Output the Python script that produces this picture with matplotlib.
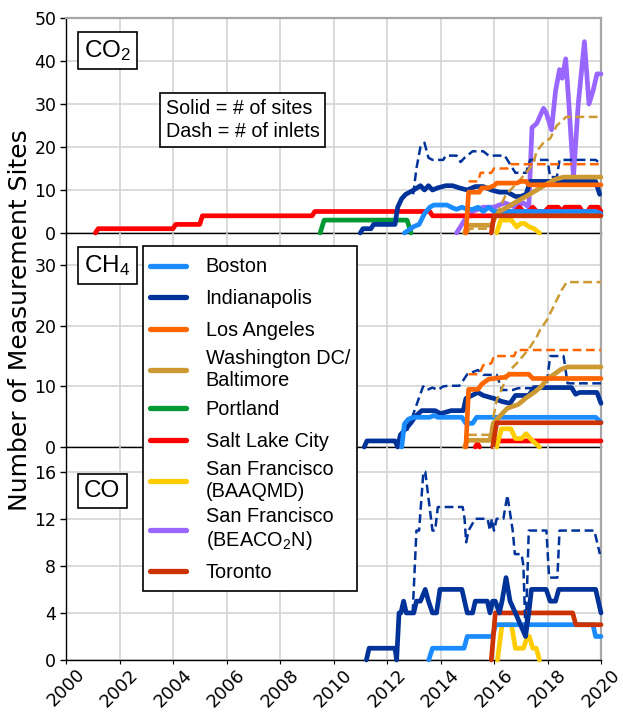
import numpy as np
import matplotlib
matplotlib.use("Agg")
import matplotlib.pyplot as plt
from matplotlib.lines import Line2D

plt.rcParams['mathtext.fontset'] = 'custom'
plt.rcParams['mathtext.rm'] = 'Liberation Sans'
plt.rcParams['mathtext.it'] = 'Liberation Sans:italic'
plt.rcParams['font.family'] = ['DejaVu Sans']

# ---------------- data (decimal year, count) ----------------
years_ticks = [2000, 2002, 2004, 2006, 2008, 2010, 2012, 2014, 2016, 2018, 2020]

cities = ["Boston", "Indianapolis", "Los Angeles", "Washington DC/\nBaltimore", "Portland",
          "Salt Lake City", "San Francisco\n(BAAQMD)", "San Francisco\n(BEACO$_2$N)", "Toronto"]
colors = ["#1a8cff", "#003399", "#ff6600", "#cc9933", "#009933",
          "#ff0000", "#ffcc00", "#9966ff", "#cc3300"]

# CO2 panel
co2_slc_t = [2001.1, 2001.2, 2004.0, 2004.1, 2005.0, 2005.1, 2009.2, 2009.3, 2013.6, 2013.7, 2016.0, 2016.1,
             2016.8, 2016.95, 2017.1, 2017.3, 2017.45, 2017.6, 2017.9, 2018.05, 2018.4, 2018.55, 2018.65,
             2019.2, 2019.3, 2019.5, 2019.6, 2019.9, 2020.0]
co2_slc_n = [0, 1, 1, 2, 2, 4, 4, 5, 5, 4, 4, 5,
             5, 6, 5, 5, 6, 5, 5, 6, 6, 5, 6,
             6, 5, 5, 6, 6, 5]
co2_portland_t = [2009.5, 2009.65, 2012.75, 2012.9]
co2_portland_n = [0, 3, 3, 0]
co2_indy_t = [2011.0, 2011.1, 2011.4, 2011.5, 2012.3, 2012.4, 2012.55, 2012.7, 2013.0, 2013.25, 2013.4,
              2013.55, 2013.7, 2013.9, 2014.2, 2014.45, 2014.7, 2015.0, 2015.3, 2015.6, 2015.9, 2016.2,
              2016.5, 2016.8, 2017.0, 2017.2, 2017.35, 2019.8, 2019.95]
co2_indy_n = [0, 1, 1, 2, 2, 6, 8, 9, 10, 11, 10,
              11, 10, 10.5, 11, 11, 10.5, 10, 10.8, 10.8, 10, 9.5,
              9.5, 8.5, 8.5, 9, 12, 12, 9]
co2_indy_dash_t = [2012.98, 2013.1, 2013.25, 2013.4, 2013.55, 2013.7, 2014.1, 2014.2, 2014.6, 2014.75,
                   2014.9, 2015.2, 2015.6, 2015.8, 2016.4, 2016.6, 2016.8, 2017.2, 2017.35, 2018.0,
                   2018.1, 2018.35, 2018.45, 2019.8, 2020.0]
co2_indy_dash_n = [9, 15, 20, 21, 17.5, 17, 17, 18, 18, 16.5,
                   17.5, 19, 19, 18, 18, 16, 14, 14, 17, 17,
                   13, 13, 17, 17, 16]
co2_boston_t = [2012.65, 2013.0, 2013.2, 2013.4, 2013.6, 2013.75, 2014.25, 2014.4, 2014.6, 2014.8,
                2015.0, 2015.2, 2015.4, 2015.6, 2015.8, 2016.0, 2019.8, 2020.0]
co2_boston_n = [0, 1.5, 2, 4.5, 6, 6.5, 6.5, 6, 5.5, 6,
                5.5, 5.5, 6, 5, 6, 5, 5, 4.5]
co2_la_t = [2014.95, 2015.05, 2015.45, 2015.55, 2015.8, 2016.0, 2016.1, 2016.85, 2017.0, 2017.2, 2017.3, 2020.0]
co2_la_n = [0, 9.5, 9.5, 10.5, 10.5, 11, 11.6, 11.6, 12, 12, 11.2, 11.2]
co2_la_dash_t = [2015.05, 2015.4, 2015.5, 2015.9, 2016.0, 2016.5, 2016.6, 2020.0]
co2_la_dash_n = [12, 12, 14, 14, 15, 15, 16, 16]
co2_wdc_t = [2014.9, 2015.0, 2015.9, 2016.05, 2016.2, 2016.5, 2016.9, 2017.2, 2017.6, 2018.0, 2018.3, 2018.6, 2020.0]
co2_wdc_n = [0, 1.8, 1.8, 3.8, 5, 6, 7.5, 8.5, 10, 11.5, 12.5, 13, 13]
co2_wdc_dash_t = [2015.0, 2015.1, 2015.85, 2016.0, 2016.15, 2016.45, 2016.85, 2017.2, 2017.45, 2017.6,
                  2017.85, 2018.1, 2018.35, 2018.7, 2020.0]
co2_wdc_dash_n = [0, 1, 1, 3, 5, 9, 11.5, 14, 16, 19,
                  21, 22, 25, 27, 27]
co2_beacon_t = [2014.6, 2014.9, 2015.2, 2015.6, 2016.0, 2016.4, 2016.8, 2017.1, 2017.3, 2017.42, 2017.6,
                2017.85, 2017.95, 2018.15, 2018.3, 2018.45, 2018.55, 2018.68, 2018.8, 2018.97, 2019.15,
                2019.38, 2019.55, 2019.7, 2019.85, 2020.0]
co2_beacon_n = [0, 3, 5, 6, 6, 7, 6, 7, 6, 24.5, 25.5,
                29, 28, 24, 33, 38, 36, 40.5, 30, 13, 30,
                44.5, 30, 33, 37, 37]
co2_baaqmd_t = [2016.1, 2016.25, 2016.65, 2016.85, 2017.0, 2017.15, 2017.3, 2017.5, 2017.7]
co2_baaqmd_n = [0, 3, 3, 1.4, 2.2, 2.2, 1.5, 1, 0]
co2_toronto_t = [2015.9, 2016.0, 2020.0]
co2_toronto_n = [0, 4, 4]

# CH4 panel
ch4_boston_t = [2012.55, 2012.65, 2012.8, 2013.0, 2013.6, 2013.75, 2013.9, 2014.8, 2014.95, 2015.2, 2015.35, 2019.8, 2020.0]
ch4_boston_n = [0, 3.8, 4.6, 4.9, 4.9, 5.2, 4.9, 4.9, 3.9, 3.9, 4.9, 4.9, 4.1]
ch4_indy_t = [2011.15, 2011.25, 2012.3, 2012.4, 2012.5, 2012.7, 2012.9, 2013.05, 2013.3, 2013.8, 2014.0,
              2014.4, 2014.85, 2014.95, 2015.4, 2015.6, 2016.0, 2016.3, 2016.6, 2016.8, 2017.3, 2017.5,
              2018.9, 2019.05, 2019.2, 2019.85, 2020.0]
ch4_indy_n = [0, 1, 1, 0, 2, 3, 4, 5, 6, 6, 5.5,
              6, 6, 8, 9, 8.5, 8, 7.5, 7.2, 8.5, 8.5, 9.8,
              9.8, 8.7, 9, 9, 7.2]
ch4_indy_dash_t = [2012.75, 2012.9, 2013.1, 2013.35, 2013.5, 2013.7, 2013.9, 2014.1, 2014.3, 2014.7, 2014.85,
                   2015.0, 2015.4, 2015.6, 2016.1, 2016.3, 2016.7, 2016.9, 2017.95, 2018.1, 2018.6, 2018.75, 2020.0]
ch4_indy_dash_n = [2.7, 4.4, 6.9, 10, 9.4, 9.8, 9.4, 10, 10.1, 10.1, 11,
                   12, 12.7, 11.9, 11.9, 9.4, 9.4, 9.7, 9.7, 15, 15, 10.5, 10.5]
ch4_la_t = [2014.95, 2015.05, 2015.4, 2015.55, 2015.8, 2016.4, 2016.6, 2017.3, 2017.45, 2020.0]
ch4_la_n = [0, 9.5, 9.5, 10.4, 11.2, 11.5, 12, 12, 11.3, 11.3]
ch4_la_dash_t = [2015.05, 2015.45, 2015.6, 2015.9, 2016.0, 2016.75, 2016.85, 2020.0]
ch4_la_dash_n = [12, 12, 13.5, 13.8, 15, 15, 16, 16]
ch4_wdc_t = [2014.9, 2015.0, 2015.85, 2016.0, 2016.2, 2016.5, 2016.9, 2017.2, 2017.5, 2017.75, 2018.0,
             2018.25, 2018.5, 2018.75, 2020.0]
ch4_wdc_n = [0, 1.1, 1.1, 4, 5, 6.4, 7, 8.1, 9, 9.9, 11.3,
             12, 12.8, 13.2, 13.2]
ch4_wdc_dash_t = [2014.9, 2015.0, 2015.85, 2015.98, 2016.1, 2016.35, 2016.6, 2016.85, 2017.1, 2017.35,
                  2017.6, 2017.72, 2017.97, 2018.22, 2018.34, 2018.53, 2018.72, 2020.0]
ch4_wdc_dash_n = [0, 2, 2, 5, 7.7, 10.2, 12.7, 13.8, 15.1, 16.5,
                  18.2, 19.3, 20.9, 23.1, 24.2, 25.9, 27.2, 27.2]
ch4_slc_t = [2015.3, 2015.38, 2015.46, np.nan, 2016.0, 2016.1, 2020.0]
ch4_slc_n = [0, 0.6, 0, np.nan, 0, 1, 1]
ch4_baaqmd_t = [2016.1, 2016.28, 2016.63, 2016.8, 2017.03, 2017.2, 2017.4, 2017.7]
ch4_baaqmd_n = [0, 3, 3, 1.4, 1.4, 2.2, 1.2, 0]
ch4_toronto_t = [2015.95, 2016.1, 2020.0]
ch4_toronto_n = [0, 4, 4]

# CO panel
co_indy_t = [2011.23, 2011.33, 2012.3, 2012.36, 2012.45, 2012.52, 2012.62, 2012.72, 2013.0, 2013.1,
             2013.25, 2013.43, 2013.55, 2013.7, 2013.85, 2013.98, 2014.8, 2014.9, 2015.0, 2015.2,
             2015.3, 2015.75, 2015.85, 2015.95, 2016.05, 2016.2, 2016.3, 2016.45, 2016.6, 2016.8,
             2017.18, 2017.3, 2017.4, 2017.95, 2018.1, 2018.3, 2018.42, 2019.8, 2020.0]
co_indy_n = [0, 1, 1, 0, 4, 4, 5, 4, 4, 5,
             5, 6, 5, 4, 4, 6, 6, 5, 4, 4,
             5, 5, 4, 5, 5, 4, 5, 7, 5, 4,
             2, 4, 6, 6, 5, 5, 6, 6, 4]
co_indy_dash_t = [2012.96, 2013.1, 2013.2, 2013.36, 2013.43, 2013.7, 2013.8, 2013.9, 2014.83, 2014.9,
                  2014.96, 2015.05, 2015.3, 2015.76, 2015.85, 2015.92, 2016.0, 2016.1, 2016.35, 2016.5,
                  2016.7, 2016.78, 2017.03, 2017.1, 2017.18, 2017.3, 2017.96, 2018.06, 2018.37, 2018.45,
                  2019.75, 2019.96]
co_indy_dash_n = [4, 11, 11, 16, 16, 11, 11, 13, 13, 12,
                  10, 11, 12, 12, 11, 12, 11, 12, 12, 14,
                  11, 9, 9, 8, 2, 11, 11, 7, 7, 11,
                  11, 9]
co_boston_t = [2013.56, 2013.7, 2014.88, 2015.0, 2015.94, 2016.06, 2019.7, 2019.8, 2020.0]
co_boston_n = [0, 1, 1, 2, 2, 3, 3, 2, 2]
co_toronto_t = [2015.9, 2016.05, 2018.94, 2019.06, 2020.0]
co_toronto_n = [0, 4, 4, 3, 3]
co_baaqmd_t = [2016.13, 2016.3, 2016.65, 2016.8, 2017.1, 2017.25, 2017.32, 2017.45, 2017.58, 2017.7]
co_baaqmd_n = [0, 3, 3, 1, 1, 2, 2, 1, 1, 0]

# ---------------- figure ----------------
W, H = 623, 712
fig = plt.figure(figsize=(W / 100, H / 100), dpi=100)
fig.patch.set_facecolor("white")

left = 66 / W
width = (601 - 66) / W
def fy(py):
    return 1 - py / H

ax1 = fig.add_axes([left, fy(233), width, (233 - 18) / H])
ax2 = fig.add_axes([left, fy(447), width, (447 - 233) / H])
ax3 = fig.add_axes([left, fy(660), width, (660 - 447) / H])

C = dict(zip(["bos", "ind", "la", "wdc", "por", "slc", "baa", "bea", "tor"], colors))
SOLID_LW = 3.4
DASH_LW = 1.8
DASH = (0, (3.5, 1.8))

def solid(ax, t, n, c, z):
    ax.plot(t, n, color=c, lw=SOLID_LW, solid_capstyle='round', solid_joinstyle='round',
            clip_on=False, zorder=z)

def dashed(ax, t, n, c, z):
    ax.plot(t, n, color=c, lw=DASH_LW, linestyle=DASH, clip_on=False, zorder=z)

# CO2
solid(ax1, co2_beacon_t, co2_beacon_n, C["bea"], 3)
solid(ax1, co2_slc_t, co2_slc_n, C["slc"], 3.1)
solid(ax1, co2_portland_t, co2_portland_n, C["por"], 3.2)
solid(ax1, co2_baaqmd_t, co2_baaqmd_n, C["baa"], 3.3)
dashed(ax1, co2_indy_dash_t, co2_indy_dash_n, C["ind"], 3.4)
solid(ax1, co2_indy_t, co2_indy_n, C["ind"], 3.5)
solid(ax1, co2_boston_t, co2_boston_n, C["bos"], 3.6)
dashed(ax1, co2_wdc_dash_t, co2_wdc_dash_n, C["wdc"], 3.7)
solid(ax1, co2_wdc_t, co2_wdc_n, C["wdc"], 3.8)
solid(ax1, co2_toronto_t, co2_toronto_n, C["tor"], 3.9)
dashed(ax1, co2_la_dash_t, co2_la_dash_n, C["la"], 4.0)
solid(ax1, co2_la_t, co2_la_n, C["la"], 4.1)

# CH4
solid(ax2, ch4_slc_t, ch4_slc_n, C["slc"], 3.1)
solid(ax2, ch4_baaqmd_t, ch4_baaqmd_n, C["baa"], 3.3)
dashed(ax2, ch4_indy_dash_t, ch4_indy_dash_n, C["ind"], 3.4)
solid(ax2, ch4_indy_t, ch4_indy_n, C["ind"], 3.5)
solid(ax2, ch4_boston_t, ch4_boston_n, C["bos"], 3.6)
dashed(ax2, ch4_wdc_dash_t, ch4_wdc_dash_n, C["wdc"], 3.7)
solid(ax2, ch4_wdc_t, ch4_wdc_n, C["wdc"], 3.8)
solid(ax2, ch4_toronto_t, ch4_toronto_n, C["tor"], 3.9)
dashed(ax2, ch4_la_dash_t, ch4_la_dash_n, C["la"], 4.0)
solid(ax2, ch4_la_t, ch4_la_n, C["la"], 4.1)

# CO
solid(ax3, co_baaqmd_t, co_baaqmd_n, C["baa"], 3.3)
solid(ax3, co_boston_t, co_boston_n, C["bos"], 3.6)
solid(ax3, co_toronto_t, co_toronto_n, C["tor"], 3.9)
dashed(ax3, co_indy_dash_t, co_indy_dash_n, C["ind"], 4.0)
solid(ax3, co_indy_t, co_indy_n, C["ind"], 4.1)

panels = [(ax1, 50, [0, 10, 20, 30, 40, 50]),
          (ax2, 35.3, [0, 10, 20, 30]),
          (ax3, 18.1, [0, 4, 8, 12, 16])]
for i, (ax, ymax, yt) in enumerate(panels):
    ax.set_xlim(2000, 2020)
    ax.set_ylim(0, ymax)
    ax.set_yticks(yt)
    ax.set_xticks(years_ticks)
    ax.patch.set_visible(False)
    ax.grid(True, color="#d4d4d4", lw=1.2, zorder=0)
    ax.set_axisbelow(True)
    ax.tick_params(axis='y', direction='out', length=4, width=1, labelsize=12.5, pad=3)
    for s in ("left", "bottom"):
        ax.spines[s].set_color("black")
        ax.spines[s].set_linewidth(1.0)
    ax.spines["right"].set_color("#a6a6a6")
    ax.spines["right"].set_linewidth(1.6)
    if i == 0:
        ax.spines["top"].set_color("#a6a6a6")
        ax.spines["top"].set_linewidth(1.6)
    else:
        ax.spines["top"].set_visible(False)
    if i < 2:
        ax.tick_params(axis='x', length=0, labelbottom=False)
    else:
        ax.tick_params(axis='x', direction='out', length=3, labelsize=13, pad=1)
        for lab in ax.get_xticklabels():
            lab.set_rotation(45)
            lab.set_ha('center')

# panel labels
box = dict(boxstyle='square,pad=0.25', fc='white', ec='black', lw=1.2)
lab_font = dict(family='Liberation Sans', size=17.5)
ax1.text(0.034, 0.905, "CO$_2$", transform=ax1.transAxes, ha='left', va='top', bbox=box, zorder=10, **lab_font)
ax2.text(0.034, 0.905, "CH$_4$", transform=ax2.transAxes, ha='left', va='top', bbox=box, zorder=10, **lab_font)
ax3.text(0.034, 0.845, "CO", transform=ax3.transAxes, ha='left', va='top', bbox=box, zorder=10, **lab_font)

ax1.text(0.186, 0.625, "Solid = # of sites\nDash = # of inlets", transform=ax1.transAxes,
         ha='left', va='top', family='Liberation Sans', size=14.2, linespacing=1.3,
         bbox=dict(boxstyle='square,pad=0.3', fc='white', ec='black', lw=1.2), zorder=10)

fig.text(0.032, fy(320), "Number of Measurement Sites", rotation=90, ha='center', va='center', size=18)

LEG_FS = 14.3
HH = 1.64
handles = [Line2D([0], [0], color=c, lw=3.8, solid_capstyle='round') for c in colors]
leg = fig.legend(handles, cities, loc='upper left', bbox_to_anchor=(143 / W, fy(246)),
                 frameon=True, fancybox=False, edgecolor='black', framealpha=1,
                 borderpad=0.35, labelspacing=0.3, handlelength=1.8, handleheight=HH,
                 handletextpad=1.0, borderaxespad=0, prop=dict(family='Liberation Sans', size=LEG_FS))
leg.get_frame().set_linewidth(1.2)
for t in leg.get_texts():
    t.set_linespacing(1.2)
# re-center the handle lines on the text (taller handle boxes push them up)
_desc = 0.35 * LEG_FS * (HH - 0.7)
_h = LEG_FS * HH - _desc
_shift = (_h - _desc) / 2 - 0.35 * LEG_FS
for hl in leg.legend_handles:
    yd = np.asarray(hl.get_ydata(), dtype=float)
    hl.set_ydata(yd - _shift)

fig.savefig("out.png", dpi=100)
